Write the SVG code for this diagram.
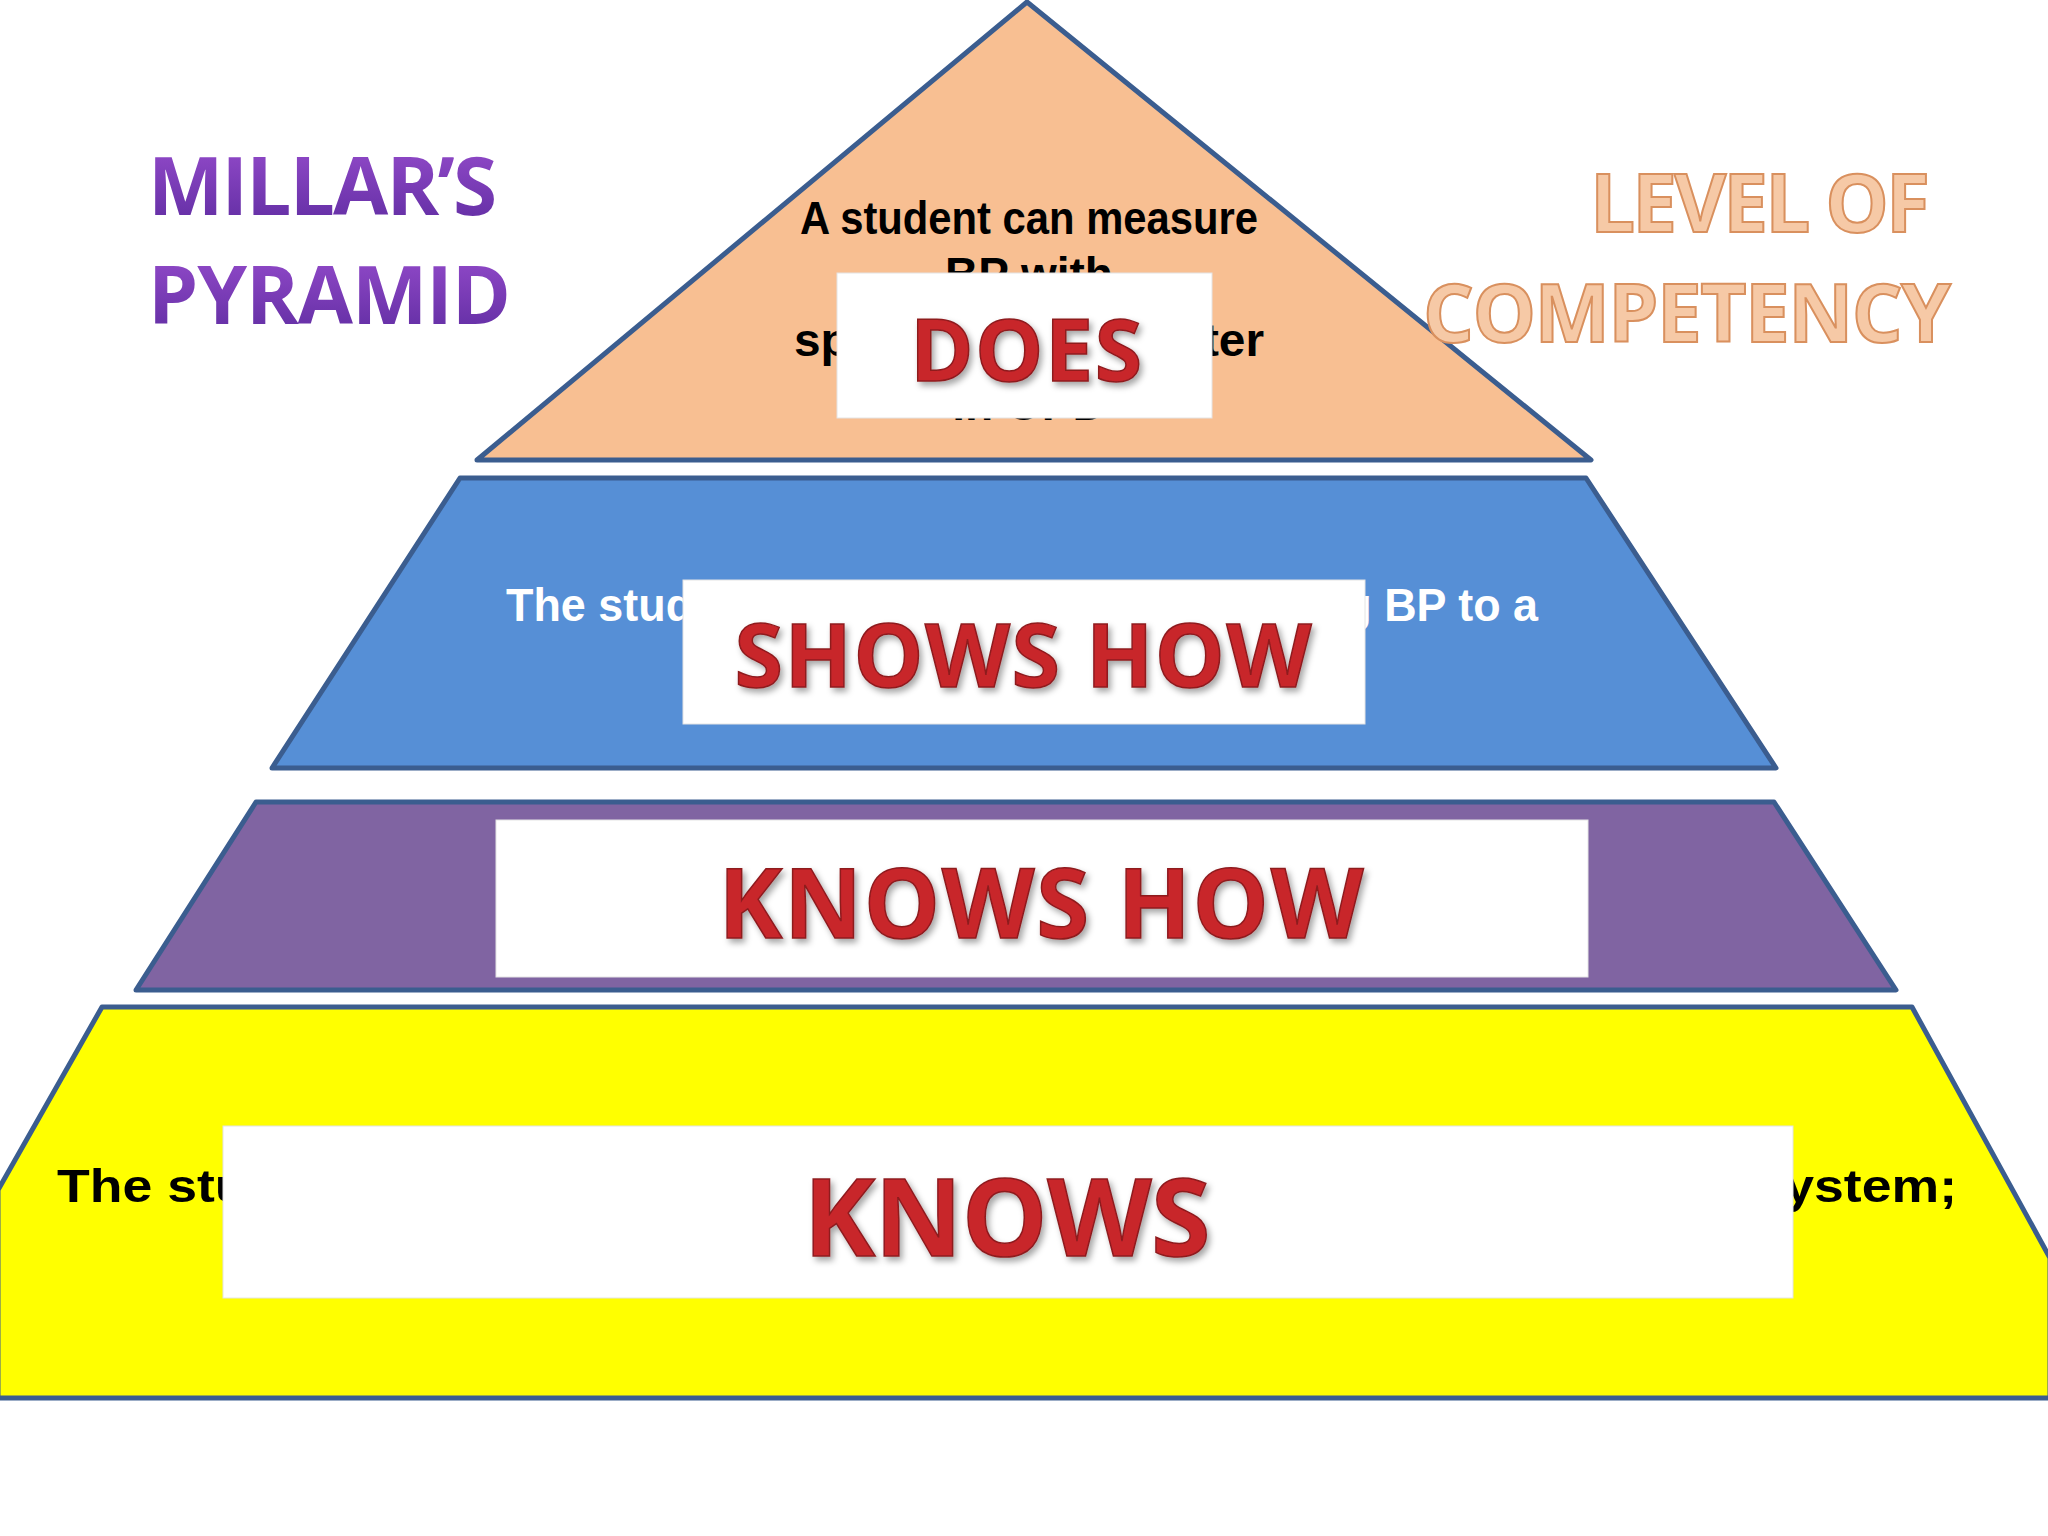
<svg xmlns="http://www.w3.org/2000/svg" width="2048" height="1536" viewBox="0 0 2048 1536">
<defs>
<linearGradient id="pg" x1="0" y1="0" x2="0" y2="1"><stop offset="0" stop-color="#9B4FD0"/><stop offset="1" stop-color="#5B2A9E"/></linearGradient>
<filter id="sh" x="-10%" y="-10%" width="130%" height="140%"><feDropShadow dx="3" dy="4" stdDeviation="3" flood-color="#000" flood-opacity="0.35"/></filter>
</defs>
<style>
.lvl{stroke:#3B5D8F;stroke-width:5;stroke-linejoin:round}
.box{fill:#fff;stroke:#e4e4e4;stroke-width:1}
.big{font-family:"Open Sans","DejaVu Sans",sans-serif;font-weight:bold;fill:#C8262C;stroke:#8E1A1E;stroke-width:1.5;text-anchor:middle;filter:url(#sh)}
.desc{font-family:"Liberation Sans Narrow","Liberation Sans",sans-serif;font-weight:bold;font-size:46px;text-anchor:middle}
.ttl{font-family:"Open Sans","DejaVu Sans",sans-serif;font-weight:bold;font-size:80px}
</style>
<rect width="2048" height="1536" fill="#fff"/>
<g id="does">
<polygon class="lvl" points="1027,2 1591,460 477,460" fill="#F8BF92"/>
<text class="desc" x="1029" y="234" fill="#000" textLength="458" lengthAdjust="spacingAndGlyphs">A student can measure</text>
<text class="desc" x="1029" y="290" fill="#000">BP with</text>
<text class="desc" x="1029" y="356" fill="#000" textLength="470" lengthAdjust="spacingAndGlyphs">sphygmomanometer</text>
<text class="desc" x="1029" y="420" fill="#000">in OPD</text>
<rect class="box" x="837" y="273" width="375" height="145"/>
<text class="big" x="1026" y="381" font-size="86" textLength="232">DOES</text>
</g>
<g id="showshow">
<polygon class="lvl" points="460,478 1586,478 1776,768 272,768" fill="#568FD6"/>
<text class="desc" x="1022" y="621" fill="#fff" textLength="1032" lengthAdjust="spacingAndGlyphs">The student can demonstrate measuring BP to a</text>
<rect class="box" x="683" y="580" width="682" height="144"/>
<text class="big" x="1023" y="687" font-size="88" textLength="577">SHOWS HOW</text>
</g>
<g id="knowshow">
<polygon class="lvl" points="256,802 1774,802 1896,990 136,990" fill="#8064A2"/>
<rect class="box" x="496" y="820" width="1092" height="157"/>
<text class="big" x="1041" y="938" font-size="96" textLength="645">KNOWS HOW</text>
</g>
<g id="knows">
<polygon class="lvl" points="102,1007 1912,1007 2050,1258 2050,1398 -2,1398 -2,1190" fill="#FFFF00"/>
<text class="desc" x="1007" y="1202" fill="#000" textLength="1900" lengthAdjust="spacingAndGlyphs">The student knows the anatomy and physiology of cardiovascular system;</text>
<rect class="box" x="223" y="1126" width="1570" height="172"/>
<text class="big" x="1007" y="1256" font-size="108" textLength="407">KNOWS</text>
</g>
<g id="title">
<text class="ttl" x="148" y="215" fill="url(#pg)" textLength="349">MILLAR’S</text>
<text class="ttl" x="148" y="324" fill="url(#pg)" textLength="363">PYRAMID</text>
</g>
<g id="level">
<text class="ttl" x="1760" y="232" text-anchor="middle" fill="#F6C9A6" stroke="#D9905E" stroke-width="2" textLength="340">LEVEL OF</text>
<text class="ttl" x="1687" y="342" text-anchor="middle" fill="#F6C9A6" stroke="#D9905E" stroke-width="2" textLength="528">COMPETENCY</text>
</g>
<g id="connectors"/>
</svg>
